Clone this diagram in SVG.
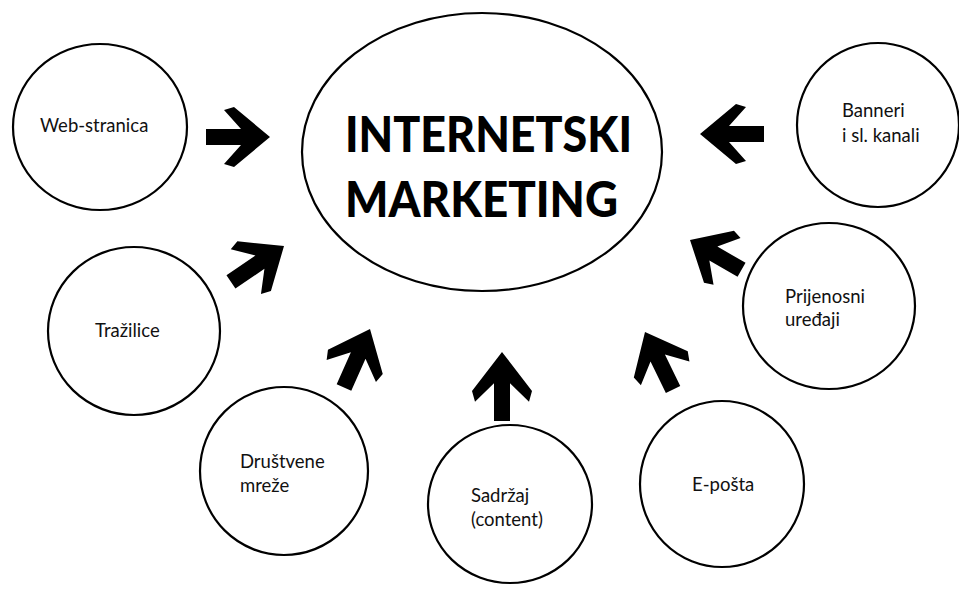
<svg xmlns="http://www.w3.org/2000/svg" xmlns:xlink="http://www.w3.org/1999/xlink" width="959" height="590" viewBox="0 0 959 590">
<style>
.c{fill:#fff;stroke:#000;stroke-width:2.2}
.t{font-family:Lato,"Open Sans","Liberation Sans",sans-serif;font-size:18.5px;fill:#111}
.h{font-family:Lato,"Open Sans","Liberation Sans",sans-serif;font-size:49px;font-weight:900;fill:#000}
.a{fill:#000}
</style>
<defs>
<path id="arr" d="M0,0 L-36,-30 L-46,-27 L-29,-8 L-64,-8 L-64,8 L-29,8 L-46,27 L-36,30 Z"/>
</defs>
<rect width="959" height="590" fill="#fff"/>
<g id="connectors" class="a">
<use xlink:href="#arr" transform="translate(270,137)"/>
<use xlink:href="#arr" transform="translate(284,246) rotate(-34)"/>
<use xlink:href="#arr" transform="translate(370,329) rotate(-66)"/>
<use xlink:href="#arr" transform="translate(502,352) rotate(-90) scale(1.08,1)"/>
<use xlink:href="#arr" transform="translate(645,332) rotate(-116)"/>
<use xlink:href="#arr" transform="translate(690,240) rotate(-150) scale(0.93,1)"/>
<use xlink:href="#arr" transform="translate(700,134) rotate(180)"/>
</g>
<g id="center">
<ellipse class="c" cx="482" cy="152" rx="180" ry="139"/>
<text class="h" x="345" y="152" textLength="287" lengthAdjust="spacingAndGlyphs">INTERNETSKI</text>
<text class="h" x="345" y="217" textLength="273" lengthAdjust="spacingAndGlyphs">MARKETING</text>
</g>
<g id="web">
<ellipse class="c" cx="100" cy="127" rx="87" ry="83"/>
<text class="t" x="40" y="132">Web-stranica</text>
</g>
<g id="banneri">
<ellipse class="c" cx="878" cy="125" rx="81" ry="82"/>
<text class="t" x="842" y="117">Banneri</text>
<text class="t" x="842" y="142">i sl. kanali</text>
</g>
<g id="trazilice">
<ellipse class="c" cx="134" cy="331" rx="86" ry="84"/>
<text class="t" x="95" y="337">Tražilice</text>
</g>
<g id="prijenosni">
<ellipse class="c" cx="829" cy="306" rx="86" ry="83"/>
<text class="t" x="785" y="303">Prijenosni</text>
<text class="t" x="785" y="326">uređaji</text>
</g>
<g id="drustvene">
<ellipse class="c" cx="284" cy="471" rx="84" ry="84"/>
<text class="t" x="240" y="468">Društvene</text>
<text class="t" x="240" y="492">mreže</text>
</g>
<g id="sadrzaj">
<ellipse class="c" cx="510" cy="504" rx="82" ry="79"/>
<text class="t" x="471" y="502">Sadržaj</text>
<text class="t" x="471" y="526">(content)</text>
</g>
<g id="eposta">
<ellipse class="c" cx="722" cy="484" rx="82" ry="83"/>
<text class="t" x="692" y="491">E-pošta</text>
</g>
</svg>
